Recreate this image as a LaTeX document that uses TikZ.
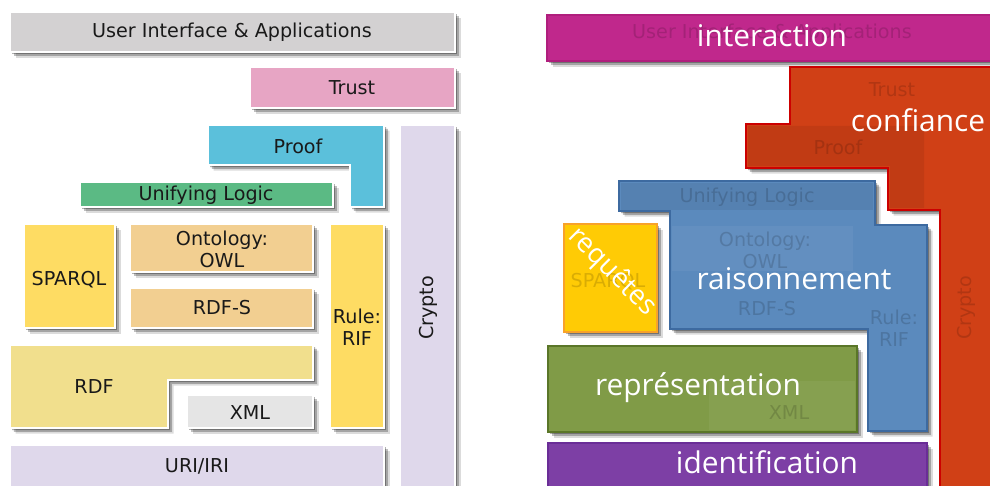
\documentclass[tikz,border=0pt]{standalone}
\usepackage{fontspec}
\setmainfont{DejaVu Sans}
\newfontfamily\tagfont{Open Sans}
\usetikzlibrary{shadows}

\definecolor{uigray}{RGB}{211,209,210}
\definecolor{trustpink}{RGB}{231,165,196}
\definecolor{proofblue}{RGB}{91,192,219}
\definecolor{cryptolilac}{RGB}{223,216,235}
\definecolor{logicgreen}{RGB}{91,186,132}
\definecolor{queryyellow}{RGB}{254,220,99}
\definecolor{owltan}{RGB}{242,207,145}
\definecolor{rdfyellow}{RGB}{241,223,141}
\definecolor{xmlgray}{RGB}{229,229,229}
\definecolor{interfill}{RGB}{192,40,140}
\definecolor{interedge}{RGB}{176,30,125}
\definecolor{conffill}{RGB}{208,64,22}
\definecolor{confedge}{RGB}{204,0,0}
\definecolor{raisfill}{RGB}{91,138,189}
\definecolor{raisedge}{RGB}{61,106,160}
\definecolor{reqfill}{RGB}{255,203,5}
\definecolor{reqedge}{RGB}{248,162,42}
\definecolor{repfill}{RGB}{128,155,71}
\definecolor{repedge}{RGB}{90,118,40}
\definecolor{identfill}{RGB}{125,63,165}
\definecolor{identedge}{RGB}{106,45,151}

\tikzset{
  soft shadow/.style={drop shadow={shadow xshift=1.2pt,shadow yshift=-1.2pt,opacity=.3,fill=black},
                      drop shadow={shadow xshift=2.2pt,shadow yshift=-2.2pt,opacity=.25,fill=black},
                      drop shadow={shadow xshift=3.2pt,shadow yshift=-3.2pt,opacity=.14,fill=black}},
  layer/.style={draw=white,line width=0.9pt,soft shadow},
  area/.style={line width=1.2pt,soft shadow},
  stack/.style={font=\fontsize{10.9}{12.5}\selectfont,align=center,text=black!90,inner sep=0pt},
  ghost/.style={stack,text=black,text opacity=0.15},
  tag/.style={font=\tagfont\fontsize{17}{20}\selectfont,text=white,anchor=base,inner sep=0pt}
}

\begin{document}
\begin{tikzpicture}[x=0.02cm,y=-0.02cm]
  \useasboundingbox (0,0) rectangle (990,486);

  \draw [layer,fill=uigray] (10,12) rectangle (455,52);
  \draw [layer,fill=trustpink] (250,67) rectangle (455,108);
  \draw [layer,fill=cryptolilac] (400,125) rectangle (455,500);
  \draw [layer,fill=proofblue] (208,125) -- (384,125) -- (384,207) -- (350,207) -- (350,165) -- (208,165) -- cycle;
  \draw [layer,fill=logicgreen] (80,182) rectangle (333,207);
  \draw [layer,fill=queryyellow] (24,224) rectangle (115,328);
  \draw [layer,fill=owltan] (130,224) rectangle (313,272);
  \draw [layer,fill=owltan] (130,288) rectangle (313,328);
  \draw [layer,fill=queryyellow] (330,224) rectangle (384,428);
  \draw [layer,fill=rdfyellow] (10,345) -- (313,345) -- (313,380) -- (168,380) -- (168,428) -- (10,428) -- cycle;
  \draw [layer,fill=xmlgray] (187,395) rectangle (313,428);
  \draw [layer,fill=cryptolilac] (10,445) rectangle (384,500);

  \node (ui) [stack] at (232,32) {User Interface \& Applications};
  \node (trust) [stack] at (352,88) {Trust};
  \node (proof) [stack] at (298,146) {Proof};
  \node (crypto) [stack,rotate=90] at (428,308) {Crypto};
  \node (logic) [stack] at (206,195) {Unifying Logic};
  \node (sparql) [stack] at (69,280) {SPARQL};
  \node (owl) [stack] at (222,249) {Ontology:\\OWL};
  \node (rdfs) [stack] at (222,308) {RDF-S};
  \node (rif) [stack] at (357,327) {Rule:\\RIF};
  \node (rdf) [stack] at (94,387) {RDF};
  \node (xml) [stack] at (250,413) {XML};
  \node (uri) [stack] at (197,466) {URI/IRI};

  \draw [area,draw=interedge,fill=interfill] (547,15) rectangle (1000,61);
  \draw [area,draw=confedge,fill=conffill] (790,67) -- (1000,67) -- (1000,500) -- (940,500) -- (940,210) -- (888,210) -- (888,168) -- (746,168) -- (746,124) -- (790,124) -- cycle;
  \fill [black,opacity=.07] (748,126) -- (924,126) -- (924,208) -- (890,208) -- (890,166) -- (748,166) -- cycle;
  \draw [area,draw=raisedge,fill=raisfill] (619,181) -- (875,181) -- (875,225) -- (927,225) -- (927,431) -- (868,431) -- (868,329) -- (670,329) -- (670,211) -- (619,211) -- cycle;
  \fill [black,opacity=.06] (621,183) rectangle (873,210);
  \fill [white,opacity=.05] (672,226) rectangle (853,271);
  \draw [area,draw=reqedge,fill=reqfill] (564,224) rectangle (657,332);
  \draw [area,draw=repedge,fill=repfill] (548,346) rectangle (857,432);
  \fill [white,opacity=.05] (709,381) rectangle (855,430);
  \draw [area,draw=identedge,fill=identfill] (548,443) rectangle (927,500);

  \node (ui ghost) [ghost] at (772,33) {User Interface \& Applications};
  \node (trust ghost) [ghost] at (892,90) {Trust};
  \node (proof ghost) [ghost] at (838,147) {Proof};
  \node (crypto ghost) [ghost,rotate=90] at (966,308) {Crypto};
  \node (logic ghost) [ghost] at (747,197) {Unifying Logic};
  \node (sparql ghost) [ghost] at (608,282) {SPARQL};
  \node (owl ghost) [ghost] at (765,250) {Ontology:\\OWL};
  \node (rdfs ghost) [ghost] at (767,309) {RDF-S};
  \node (rif ghost) [ghost] at (894,328) {Rule:\\RIF};
  \node (xml ghost) [ghost] at (789,413) {XML};

  \node (interaction) [tag] at (772,47) {interaction};
  \node (confiance) [tag] at (918,132) {confiance};
  \node (raisonnement) [tag] at (794,289) {raisonnement};
  \node (representation) [tag] at (698,395) {représentation};
  \node (identification) [tag] at (767,473) {identification};
  \node (requetes) [tag,anchor=center,rotate=-45,font=\tagfont\fontsize{15.5}{18}\selectfont] at (612,272) {requêtes};
\end{tikzpicture}
\end{document}
